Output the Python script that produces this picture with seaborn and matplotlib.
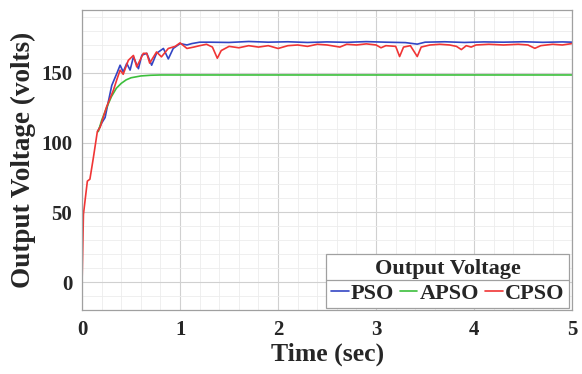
import matplotlib
matplotlib.use("Agg")
import matplotlib.pyplot as plt
from matplotlib.ticker import MultipleLocator
from matplotlib.lines import Line2D
import seaborn as sns
import pandas as pd

# PSO output voltage
pso_t = [0.16, 0.2, 0.235, 0.27, 0.303, 0.354, 0.388, 0.42, 0.456, 0.49, 0.524, 0.575,
         0.61, 0.66, 0.71, 0.76, 0.83, 0.88, 0.93, 1.0, 1.07, 1.12, 1.2, 1.3, 1.5, 1.7,
         1.9, 2.1, 2.3, 2.5, 2.7, 2.9, 3.1, 3.3, 3.42, 3.5, 3.7, 3.9, 4.1, 4.3, 4.5,
         4.7, 4.9, 5.0]
pso_v = [108, 114, 118, 130, 141, 149.5, 155.5, 150.7, 156.8, 152, 161.5, 153,
         162.7, 164, 155.5, 164, 167.5, 160, 167.5, 171, 170, 171, 172, 172, 171.8, 172.5,
         172, 172.3, 171.8, 172.2, 171.9, 172.4, 172, 171.7, 170.6, 172, 172.3, 171.8, 172.2, 172, 172.3,
         171.9, 172.2, 172]

# APSO output voltage
apso_t = [0.166, 0.2, 0.25, 0.3, 0.35, 0.4, 0.45, 0.5, 0.6, 0.7, 0.8, 1.0, 5.0]
apso_v = [108, 116, 125, 133, 139, 142.5, 145, 146.5, 147.8, 148.3, 148.5, 148.5, 148.5]

# CPSO output voltage
cpso_t = [0.0, 0.014, 0.054, 0.08, 0.115, 0.156, 0.184, 0.25, 0.32, 0.354, 0.388, 0.42,
          0.472, 0.524, 0.558, 0.625, 0.66, 0.69, 0.76, 0.81, 0.88, 0.95, 1.0, 1.07, 1.14,
          1.2, 1.27, 1.33, 1.38, 1.42, 1.5, 1.6, 1.7, 1.8, 1.9, 2.0, 2.1, 2.2, 2.3, 2.4,
          2.5, 2.63, 2.7, 2.8, 2.9, 3.0, 3.05, 3.1, 3.2, 3.24, 3.28, 3.35, 3.42, 3.46,
          3.55, 3.65, 3.75, 3.82, 3.87, 3.92, 3.97, 4.02, 4.15, 4.3, 4.45, 4.55, 4.62,
          4.68, 4.8, 4.9, 5.0]
cpso_v = [0, 48.6, 72.4, 73.8, 89, 108, 111, 125.6, 137.6, 145, 152, 149,
          159, 162.5, 154.3, 164, 164, 157, 165, 161.5, 167.5, 169, 171.5, 167.5, 168.5,
          169.5, 170.5, 168.5, 160.5, 166, 169, 168, 169.5, 168.5, 169.5, 167.5, 169.5, 170, 169, 170.5,
          170, 168.5, 170.5, 170, 170.8, 170, 168, 169.5, 169, 161.7, 168.5, 169.5, 161.7, 168.5,
          170, 170.5, 170, 169, 166.7, 169.5, 168.5, 170, 170.5, 170, 170.5, 170, 167.6,
          169.5, 170.5, 170, 171]

x_ticks = [0, 1, 2, 3, 4, 5]
y_ticks = [0, 50, 100, 150]

frames = []
for name, t, v in [("PSO", pso_t, pso_v), ("APSO", apso_t, apso_v), ("CPSO", cpso_t, cpso_v)]:
    frames.append(pd.DataFrame({"Time": t, "Voltage": v, "Method": name}))
df = pd.concat(frames, ignore_index=True)

sns.set_theme(style="white")
plt.rcParams["font.family"] = ["Liberation Serif", "DejaVu Serif"]
plt.rcParams["font.weight"] = "bold"

fig = plt.figure(figsize=(5.82, 3.74), dpi=100)
ax = fig.add_axes([0.141, 0.171, 0.842, 0.802])

palette = {"PSO": "#3346c4", "APSO": "#3cbf3c", "CPSO": "#f03535"}
sns.lineplot(data=df, x="Time", y="Voltage", hue="Method", palette=palette,
             linewidth=1.2, ax=ax, estimator=None, sort=False)

ax.set_xlim(0, 5)
ax.set_ylim(-20, 195)
ax.set_xticks(x_ticks)
ax.set_yticks(y_ticks)
ax.xaxis.set_minor_locator(MultipleLocator(0.2))
ax.yaxis.set_minor_locator(MultipleLocator(10))
ax.grid(which="major", color="#d0d0d0", linewidth=0.8)
ax.grid(which="minor", color="#ececec", linewidth=0.6)
ax.set_axisbelow(True)
for s in ax.spines.values():
    s.set_color("#a0a0a0")
    s.set_linewidth(0.9)
ax.tick_params(axis="both", which="both", length=0, labelsize=15, pad=7)
for lbl in ax.get_xticklabels() + ax.get_yticklabels():
    lbl.set_fontweight("bold")

ax.set_xlabel("Time (sec)", fontsize=18.5, fontweight="bold", labelpad=2)
ax.set_ylabel("Output Voltage (volts)", fontsize=19.5, fontweight="bold", labelpad=4)

leg = ax.legend(title="Output Voltage", loc="lower right", bbox_to_anchor=(0.993, 0.006),
                borderaxespad=0, ncol=3, handlelength=0.8, handletextpad=0.1,
                columnspacing=0.25, fontsize=16, title_fontsize=16, frameon=True,
                fancybox=False, borderpad=0.2, labelspacing=0.2)
leg.get_title().set_fontweight("bold")
for txt in leg.get_texts():
    txt.set_fontweight("bold")
frame = leg.get_frame()
frame.set_edgecolor("#a0a0a0")
frame.set_linewidth(0.9)
frame.set_alpha(1)

# separator line under the legend title
fig.canvas.draw()
r = fig.canvas.get_renderer()
lb = leg.get_window_extent(r)
tb = leg.get_title().get_window_extent(r)
inv = fig.transFigure.inverted()
x0, yl = inv.transform((lb.x0, tb.y0 - 1))
x1, _ = inv.transform((lb.x1, tb.y0 - 1))
fig.add_artist(Line2D([x0, x1], [yl, yl], color="#a0a0a0", linewidth=0.9,
                      transform=fig.transFigure))

fig.savefig("out.png", dpi=100)
